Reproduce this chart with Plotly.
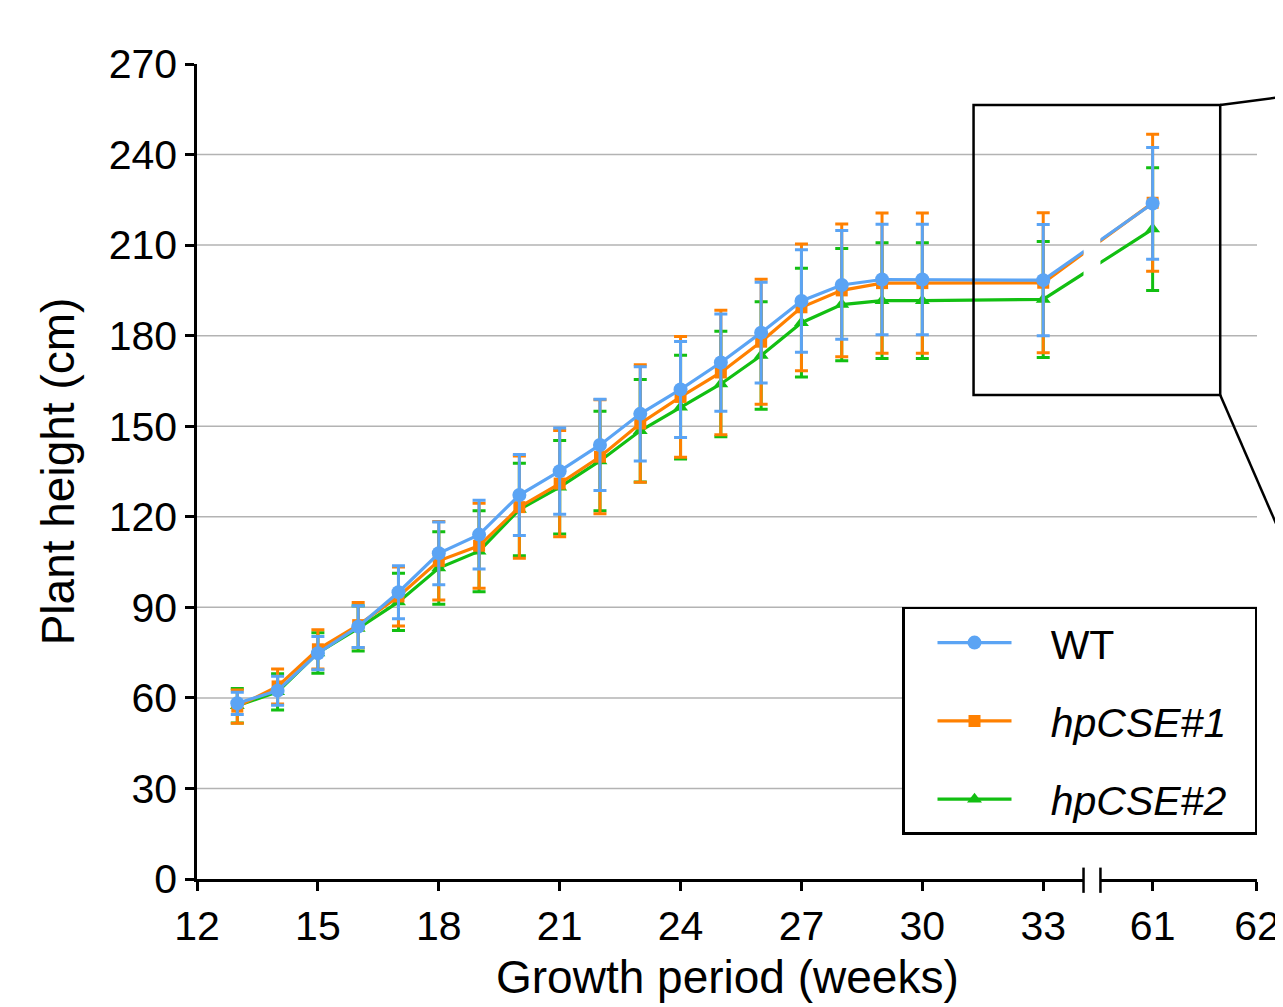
import plotly.graph_objects as go

# ---------------- data ----------------
weeks = [13, 14, 15, 16, 17, 18, 19, 20, 21, 22, 23, 24, 25, 26, 27, 28, 29, 30, 33, 61]

wt = [58.2, 62.4, 74.8, 83.6, 95.0, 107.9, 114.1, 127.2, 135.1, 143.8, 154.1, 162.2,
      171.1, 181.0, 191.5, 196.8, 198.6, 198.6, 198.4, 223.8]
wt_sd = [3.7, 4.8, 5.5, 6.9, 8.8, 10.4, 11.4, 13.4, 14.3, 15.1, 15.6, 15.9,
         16.1, 16.7, 17.0, 18.0, 18.3, 18.3, 18.4, 18.5]

hp1 = [57.1, 63.8, 76.1, 84.1, 93.6, 105.4, 110.4, 123.2, 131.0, 139.9, 150.9, 159.7,
       167.8, 178.0, 189.4, 195.0, 197.4, 197.4, 197.5, 224.0]
hp1_sd = [5.5, 5.8, 6.5, 7.5, 9.8, 13.0, 14.1, 16.9, 17.6, 18.9, 19.5, 20.0,
          20.6, 20.7, 21.0, 22.0, 23.2, 23.2, 23.2, 22.7]

hp2 = [57.4, 62.0, 74.9, 83.0, 91.8, 103.0, 108.6, 122.4, 129.8, 138.5, 148.5, 156.3,
       164.0, 173.4, 184.3, 190.3, 191.6, 191.6, 192.0, 215.3]
hp2_sd = [5.7, 6.0, 6.7, 7.5, 9.5, 12.0, 13.4, 15.3, 15.5, 16.5, 17.0, 17.2,
          17.5, 17.8, 18.0, 18.6, 19.2, 19.2, 19.2, 20.3]

series_names = ["WT", "<i>hpCSE#1</i>", "<i>hpCSE#2</i>"]
x_tick_labels = [12, 15, 18, 21, 24, 27, 30, 33, 61, 62]
y_tick_labels = [0, 30, 60, 90, 120, 150, 180, 210, 240, 270]

# ---------------- broken x-axis scale ----------------
LEFT_START, LEFT_END = 12.0, 34.0
RIGHT_START, RIGHT_END = 60.5, 62.0
GAP = 0.42          # width of the break, in left-segment week units
RIGHT_SCALE = 2.59  # right segment is stretched relative to the left one


def pos(w):
    if w <= LEFT_END:
        return w
    return LEFT_END + GAP + (w - RIGHT_START) * RIGHT_SCALE


total = pos(RIGHT_END) - LEFT_START
d1 = (LEFT_END - LEFT_START) / total
d2 = (pos(RIGHT_START) - LEFT_START) / total

xs = [pos(w) for w in weeks]

FONT = "Liberation Sans, Arial, sans-serif"
BLUE = "#5ba4f4"
ORANGE = "#ff8000"
GREEN = "#12bf12"
NB = "\u00a0"

styles = {
    "WT": dict(color=BLUE, symbol="circle", size=14, rank=1),
    "hp1": dict(color=ORANGE, symbol="square", size=12, rank=2),
    "hp2": dict(color=GREEN, symbol="triangle-up", size=13, rank=3),
}

fig = go.Figure()

# draw order: green, orange, blue (blue on top)
for key, name, ys, sd in [("hp2", series_names[2], hp2, hp2_sd),
                          ("hp1", series_names[1], hp1, hp1_sd),
                          ("WT", series_names[0], wt, wt_sd)]:
    st = styles[key]
    for xa, show in (("x", True), ("x2", False)):
        fig.add_trace(go.Scatter(
            x=xs, y=ys, xaxis=xa, yaxis="y",
            mode="lines+markers", name=NB * 3 + name + NB * 2,
            legendgroup=key, showlegend=show, legendrank=st["rank"],
            line=dict(color=st["color"], width=3.2),
            marker=dict(color=st["color"], symbol=st["symbol"], size=st["size"]),
            error_y=dict(type="data", array=sd, visible=True,
                         color=st["color"], thickness=3, width=6.5),
        ))

shapes = []
# horizontal grid lines, continuous across the break
for v in y_tick_labels[1:-1]:
    shapes.append(dict(type="line", xref="paper", yref="y", x0=0, x1=1, y0=v, y1=v,
                       line=dict(color="#b3b3b3", width=1.5), layer="below"))
# axis break marks
for xb in (d1, d2):
    shapes.append(dict(type="line", xref="paper", yref="paper", x0=xb, x1=xb,
                       y0=-0.017, y1=0.014, line=dict(color="black", width=2.5)))
# zoom box and connector lines
shapes.append(dict(type="rect", xref="paper", yref="paper",
                   x0=0.7326, x1=0.9653, y0=0.5939, y1=0.9497,
                   line=dict(color="black", width=2.5)))
shapes.append(dict(type="line", xref="paper", yref="paper",
                   x0=0.9653, y0=0.9497, x1=1.04, y1=0.9625,
                   line=dict(color="black", width=2.5)))
shapes.append(dict(type="line", xref="paper", yref="paper",
                   x0=0.9653, y0=0.5939, x1=1.04, y1=0.37,
                   line=dict(color="black", width=2.5)))

axis_common = dict(showline=True, linecolor="black", linewidth=2.5,
                   ticks="outside", ticklen=9, tickwidth=2.5, tickcolor="black",
                   showgrid=False, zeroline=False, automargin=False,
                   tickfont=dict(family=FONT, size=41, color="black"))

left_ticks = [t for t in x_tick_labels if t <= LEFT_END]
right_ticks = [t for t in x_tick_labels if t >= RIGHT_START]

fig.update_layout(
    width=1275, height=999,
    margin=dict(l=189, r=26, t=56, b=128),
    plot_bgcolor="white", paper_bgcolor="white",
    font=dict(family=FONT, size=41, color="black"),
    xaxis=dict(domain=[0, d1], range=[LEFT_START, LEFT_END], anchor="y",
               tickvals=[pos(t) for t in left_ticks],
               ticktext=[str(t) for t in left_ticks], **axis_common),
    xaxis2=dict(domain=[d2, 1], range=[pos(RIGHT_START), pos(RIGHT_END)], anchor="y",
                tickvals=[pos(t) for t in right_ticks],
                ticktext=[str(t) for t in right_ticks], ticklabeloverflow="allow",
                **axis_common),
    yaxis=dict(range=[0, 270], anchor="x", tickvals=y_tick_labels,
               title=dict(text="Plant height (cm)", standoff=20,
                          font=dict(family=FONT, size=46, color="black")),
               **axis_common),
    shapes=shapes,
    annotations=[dict(text="Growth period (weeks)", xref="paper", yref="paper",
                      x=0.5, y=-0.1546, xanchor="center", yanchor="bottom",
                      showarrow=False, font=dict(family=FONT, size=46, color="black"))],
    legend=dict(x=1, xanchor="right", y=0.1939, yanchor="middle",
                bgcolor="white", bordercolor="black", borderwidth=2.5,
                font=dict(family=FONT, size=41, color="black"),
                tracegroupgap=22, itemwidth=74, indentation=28,
                traceorder="grouped"),
    showlegend=True,
)

fig.write_html("out.html")
